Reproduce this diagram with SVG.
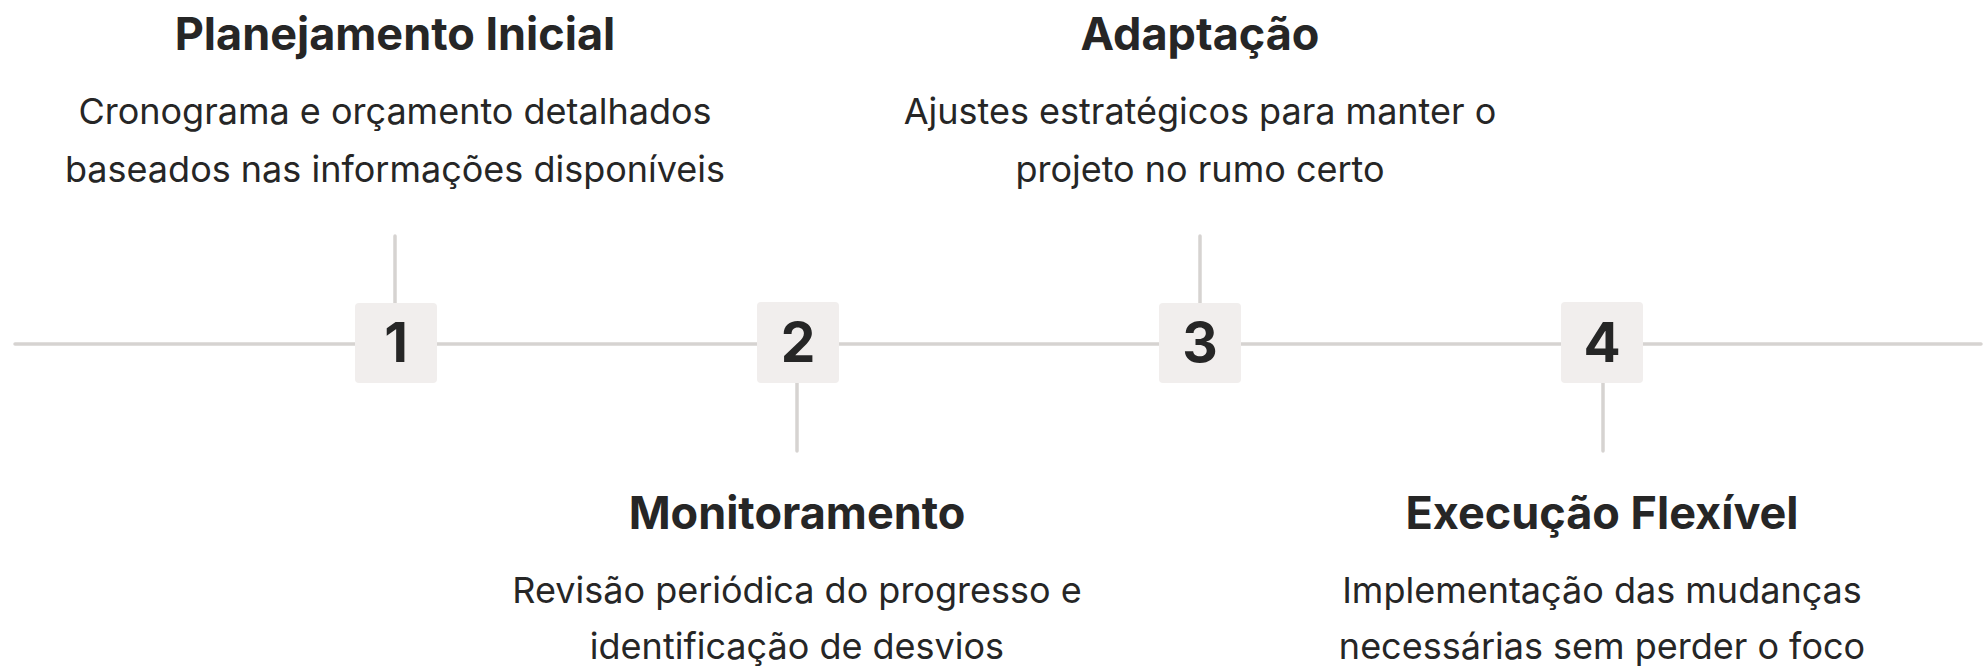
<svg xmlns="http://www.w3.org/2000/svg" width="1985" height="667" viewBox="0 0 1985 667">
  <style>
    .title { font-family: Inter, "Noto Sans", "Liberation Sans", sans-serif; font-weight: 700; font-size: 45px; fill: #262626; text-anchor: middle; }
    .desc { font-family: Inter, "Noto Sans", "Liberation Sans", sans-serif; font-weight: 400; font-size: 36px; fill: #262626; text-anchor: middle; }
    .num { font-family: Inter, "Noto Sans", "Liberation Sans", sans-serif; font-weight: 700; font-size: 55px; fill: #262626; text-anchor: middle; }
    .box { fill: #f1eeed; }
    .conn { stroke: #d6d3d1; stroke-width: 3.5; fill: none; stroke-linecap: round; }
  </style>
  <rect width="1985" height="667" fill="#ffffff"/>
  <g id="connectors">
    <line class="conn" x1="15" y1="344" x2="1981" y2="344"/>
    <line class="conn" x1="395" y1="236" x2="395" y2="303"/>
    <line class="conn" x1="797" y1="383" x2="797" y2="451"/>
    <line class="conn" x1="1200" y1="236" x2="1200" y2="303"/>
    <line class="conn" x1="1603" y1="383" x2="1603" y2="451"/>
  </g>
  <g id="node-1">
    <rect class="box" x="355" y="303" width="82" height="80" rx="4"/>
    <text class="num" x="396" y="362">1</text>
    <text class="title" x="395" y="50">Planejamento Inicial</text>
    <text class="desc" x="395" y="124">Cronograma e orçamento detalhados</text>
    <text class="desc" x="395" y="182">baseados nas informações disponíveis</text>
  </g>
  <g id="node-2">
    <rect class="box" x="757" y="302" width="82" height="81" rx="4"/>
    <text class="num" x="798" y="362">2</text>
    <text class="title" x="797" y="529">Monitoramento</text>
    <text class="desc" x="797" y="603">Revisão periódica do progresso e</text>
    <text class="desc" x="797" y="659">identificação de desvios</text>
  </g>
  <g id="node-3">
    <rect class="box" x="1159" y="303" width="82" height="80" rx="4"/>
    <text class="num" x="1200" y="362">3</text>
    <text class="title" x="1200" y="50">Adaptação</text>
    <text class="desc" x="1200" y="124">Ajustes estratégicos para manter o</text>
    <text class="desc" x="1200" y="182">projeto no rumo certo</text>
  </g>
  <g id="node-4">
    <rect class="box" x="1561" y="302" width="82" height="81" rx="4"/>
    <text class="num" x="1602" y="362">4</text>
    <text class="title" x="1602" y="529">Execução Flexível</text>
    <text class="desc" x="1602" y="603">Implementação das mudanças</text>
    <text class="desc" x="1602" y="659">necessárias sem perder o foco</text>
  </g>
</svg>
